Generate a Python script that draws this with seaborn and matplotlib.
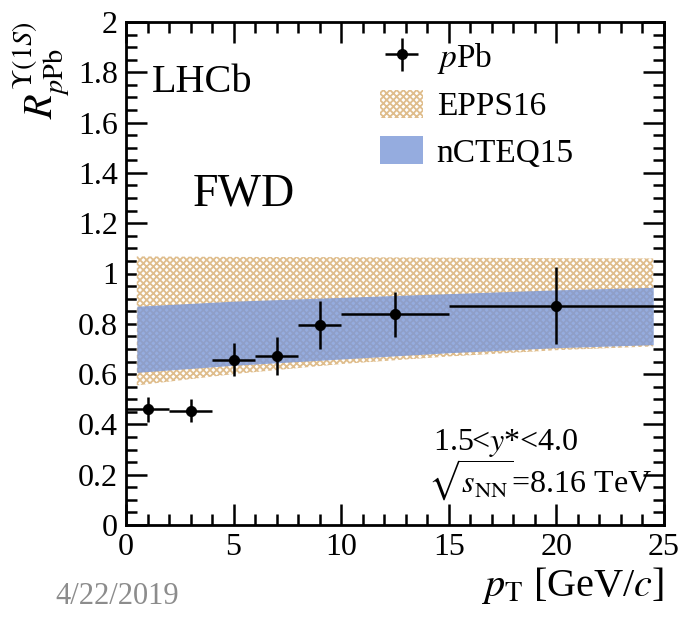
import numpy as np
import pandas as pd
import matplotlib
matplotlib.use("Agg")
import matplotlib.pyplot as plt
from matplotlib.ticker import MultipleLocator
import seaborn as sns

# ---- data ----
pt_center = [1.0, 3.0, 5.0, 7.0, 9.0, 12.5, 20.0]
pt_halfwidth = [1.0, 1.0, 1.0, 1.0, 1.0, 2.5, 5.0]
rppb = [0.46, 0.455, 0.657, 0.671, 0.795, 0.838, 0.872]
rppb_err = [0.05, 0.045, 0.065, 0.075, 0.095, 0.09, 0.152]

band_pt = [0.5, 5.0, 10.0, 15.0, 20.0, 24.5]
epps16_lo = [0.555, 0.60, 0.64, 0.67, 0.695, 0.71]
epps16_hi = [1.068, 1.066, 1.065, 1.063, 1.061, 1.06]
ncteq15_lo = [0.607, 0.635, 0.66, 0.685, 0.705, 0.717]
ncteq15_hi = [0.870, 0.890, 0.905, 0.920, 0.935, 0.945]

y_ticklabels = ["0", "0.2", "0.4", "0.6", "0.8", "1", "1.2", "1.4", "1.6", "1.8", "2"]

sns.set_style("ticks")
plt.rcParams["font.family"] = ["Liberation Serif", "DejaVu Serif"]
plt.rcParams["mathtext.fontset"] = "stix"
plt.rcParams["hatch.linewidth"] = 1.3
for k in ["text.color", "axes.labelcolor", "xtick.color", "ytick.color", "axes.edgecolor"]:
    plt.rcParams[k] = "black"

W, H = 683, 620
fig = plt.figure(figsize=(W / 100, H / 100), dpi=100)
ax = fig.add_axes([126 / W, (H - 525) / H, (664 - 126) / W, (525 - 22) / H])

df = pd.DataFrame({"pt": pt_center, "r": rppb, "xerr": pt_halfwidth, "yerr": rppb_err})
bands = pd.DataFrame({"pt": band_pt, "elo": epps16_lo, "ehi": epps16_hi,
                      "nlo": ncteq15_lo, "nhi": ncteq15_hi})

epps = ax.fill_between(bands["pt"], bands["elo"], bands["ehi"], facecolor="white",
                       edgecolor="#dfbd8c", hatch="xxxxx", linewidth=0, label="EPPS16", zorder=1)
ncteq = ax.fill_between(bands["pt"], bands["nlo"], bands["nhi"], facecolor="#7b98d8",
                        alpha=0.8, linewidth=0, label="nCTEQ15", zorder=2)

ax.errorbar(df["pt"], df["r"], xerr=df["xerr"], yerr=df["yerr"], fmt="none",
            ecolor="black", elinewidth=1.8, capsize=0, zorder=3)
sns.scatterplot(data=df, x="pt", y="r", ax=ax, color="black", s=55, edgecolor="black",
                zorder=4, legend=False)

# legend handle for data
leg_eb = ax.errorbar([-10], [-10], xerr=[1], yerr=[1], fmt="o", color="black", ms=7,
                     elinewidth=1.8, label=r"$p$Pb")

ax.set_xlim(0, 25)
ax.set_ylim(0, 2)
ax.xaxis.set_major_locator(MultipleLocator(5))
ax.xaxis.set_minor_locator(MultipleLocator(1))
ax.yaxis.set_minor_locator(MultipleLocator(0.05))
ax.set_yticks(np.arange(0, 2.01, 0.2))
ax.set_yticklabels(y_ticklabels)
ax.tick_params(which="both", direction="in", top=True, right=True, width=1.8,
               labelsize=23, pad=6, colors="black")
ax.tick_params(which="major", length=15)
ax.tick_params(which="minor", length=8)
for s in ax.spines.values():
    s.set_linewidth(2)
    s.set_color("black")

ax.set_xlabel(r"$p_{\mathrm{T}}$ [GeV/$c$]", fontsize=29, loc="right", labelpad=2)
ax.set_ylabel(r"$R^{\Upsilon(1S)}_{p\mathrm{Pb}}$", fontsize=29, loc="top", labelpad=4)

def axpos(px, py):
    return (px - 126) / (664 - 126), 1 - (py - 22) / 503

ax.text(*axpos(152, 92), "LHCb", fontsize=29, transform=ax.transAxes, ha="left", va="baseline")
ax.text(*axpos(193, 206), "FWD", fontsize=33, transform=ax.transAxes, ha="left", va="baseline")
ax.text(*axpos(433, 450), r"1.5<$y$*<4.0", fontsize=23,
        transform=ax.transAxes, ha="left", va="baseline")
ax.text(*axpos(428, 493), r"$\sqrt{s_{\mathrm{NN}}}$=8.16 TeV",
        fontsize=23, transform=ax.transAxes, ha="left", va="baseline")

fig.text(55 / W, 1 - 604 / H, "4/22/2019", fontsize=22, color="#8c8c8c", ha="left", va="baseline")

ax.legend([leg_eb, epps, ncteq], [r"$p$Pb", "EPPS16", "nCTEQ15"], loc="upper left",
          bbox_to_anchor=axpos(380, 41), frameon=False,
          fontsize=24, handlelength=1.3, handleheight=0.9, labelspacing=0.42,
          handletextpad=0.4, borderpad=0, borderaxespad=0)

fig.savefig("out.png", dpi=100)
